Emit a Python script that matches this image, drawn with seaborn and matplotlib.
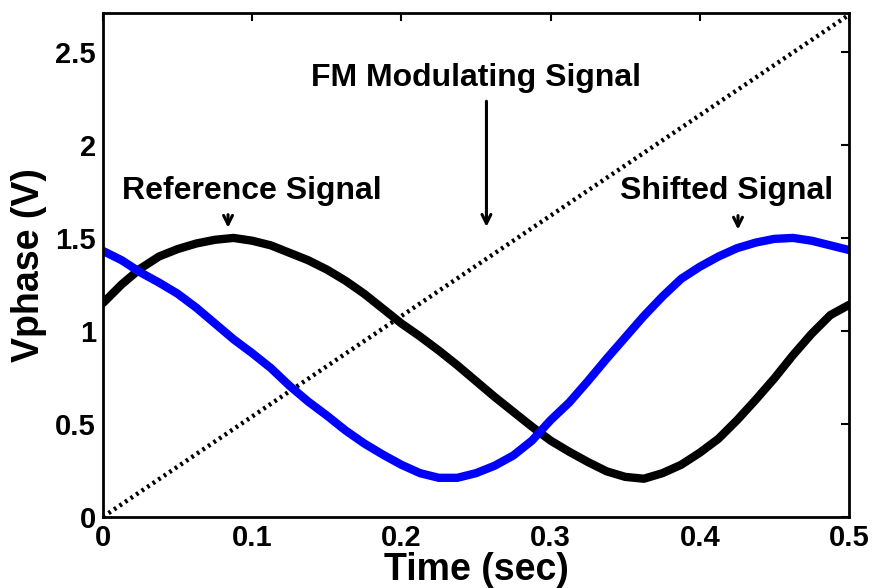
import numpy as np
import pandas as pd
import matplotlib
matplotlib.use("Agg")
import matplotlib.pyplot as plt
import seaborn as sns

# values
time = [0.0, 0.0125, 0.025, 0.0375, 0.05, 0.0625, 0.075, 0.0875, 0.1, 0.1125,
        0.125, 0.1375, 0.15, 0.1625, 0.175, 0.1875, 0.2, 0.2125, 0.225, 0.2375,
        0.25, 0.2625, 0.275, 0.2875, 0.3, 0.3125, 0.325, 0.3375, 0.35, 0.3625,
        0.375, 0.3875, 0.4, 0.4125, 0.425, 0.4375, 0.45, 0.4625, 0.475, 0.4875, 0.5]

reference = [1.15, 1.25, 1.335, 1.40, 1.44, 1.47, 1.49, 1.50, 1.485, 1.46,
             1.42, 1.38, 1.33, 1.27, 1.20, 1.12, 1.04, 0.97, 0.895, 0.815,
             0.73, 0.645, 0.565, 0.485, 0.41, 0.35, 0.295, 0.245, 0.215, 0.205,
             0.235, 0.28, 0.345, 0.42, 0.52, 0.63, 0.745, 0.87, 0.985, 1.085, 1.14]

shifted = [1.43, 1.38, 1.315, 1.26, 1.20, 1.125, 1.04, 0.955, 0.88, 0.80,
           0.705, 0.62, 0.545, 0.465, 0.395, 0.335, 0.28, 0.235, 0.21, 0.21,
           0.235, 0.275, 0.33, 0.41, 0.52, 0.615, 0.73, 0.85, 0.965, 1.08,
           1.185, 1.28, 1.345, 1.40, 1.445, 1.475, 1.495, 1.50, 1.485, 1.46, 1.435]

fm_time = [0.0, 0.5]
fm_signal = [0.0, 2.7]

xticks = [0, 0.1, 0.2, 0.3, 0.4, 0.5]
xticklabels = ["0", "0.1", "0.2", "0.3", "0.4", "0.5"]
yticks = [0, 0.5, 1, 1.5, 2, 2.5]
yticklabels = ["0", "0.5", "1", "1.5", "2", "2.5"]

sig = pd.DataFrame({"Time": time, "Reference": reference, "Shifted": shifted})
fm = pd.DataFrame({"Time": fm_time, "FM": fm_signal})

sns.set_style("white")
plt.rcParams["font.family"] = ["Liberation Sans", "DejaVu Sans"]
plt.rcParams["font.weight"] = "bold"
for key in ["text.color", "axes.labelcolor", "xtick.color", "ytick.color", "axes.edgecolor"]:
    plt.rcParams[key] = "black"

fig = plt.figure(figsize=(8.73, 5.88), dpi=100)
ax = fig.add_axes([0.118, 0.121, 0.8545, 0.857])

sns.lineplot(data=fm, x="Time", y="FM", ax=ax, color="black",
             linestyle=(0, (0.6, 0.9)), linewidth=3.2)
sns.lineplot(data=sig, x="Time", y="Reference", ax=ax, color="black",
             linewidth=6, solid_joinstyle="round")
sns.lineplot(data=sig, x="Time", y="Shifted", ax=ax, color="#0000ff",
             linewidth=6, solid_joinstyle="round")

ax.set_xlim(0, 0.5)
ax.set_ylim(0, 2.71)
ax.set_xticks(xticks)
ax.set_xticklabels(xticklabels)
ax.set_yticks(yticks)
ax.set_yticklabels(yticklabels)
ax.tick_params(direction="in", length=6, width=1.5, top=True, right=True,
               labelsize=21, pad=5)
for lab in ax.get_xticklabels() + ax.get_yticklabels():
    lab.set_fontweight("bold")
for sp in ax.spines.values():
    sp.set_linewidth(2)
    sp.set_color("black")

ax.set_xlabel("Time (sec)", fontsize=27, fontweight="bold", labelpad=0)
ax.set_ylabel("Vphase (V)", fontsize=27, fontweight="bold", labelpad=6)

txt = dict(fontsize=23, fontweight="bold", ha="center", va="center")
arr = dict(arrowstyle="->", color="black", lw=2.2, mutation_scale=16)
ax.text(0.1, 1.75, "Reference Signal", **txt)
ax.annotate("", xy=(0.0838, 1.54), xytext=(0.0838, 1.64), arrowprops=arr)
ax.text(0.25, 2.36, "FM Modulating Signal", **txt)
ax.annotate("", xy=(0.257, 1.545), xytext=(0.257, 2.25), arrowprops=arr)
ax.text(0.418, 1.75, "Shifted Signal", **txt)
ax.annotate("", xy=(0.4256, 1.53), xytext=(0.4256, 1.635), arrowprops=arr)

fig.savefig("out.png", dpi=100)
